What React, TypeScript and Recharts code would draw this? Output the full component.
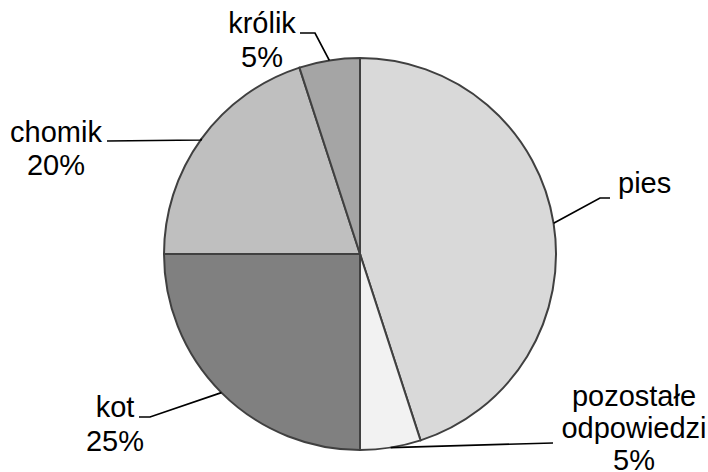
import React from 'react';
import { PieChart, Pie, Cell } from 'recharts';

const categories = ['pies', 'pozostałe odpowiedzi', 'kot', 'chomik', 'królik'];
const values = [45, 5, 25, 20, 5];
const showPercent = [false, true, true, true, true];
const colors = ['#d9d9d9', '#f2f2f2', '#808080', '#bfbfbf', '#a5a5a5'];

const data = categories.map((name, i) => ({ name, value: values[i] }));

// label placement: offsets relative to the pie centre
type Layout = {
  elbow: [number, number];
  end: [number, number];
  x: number;
  anchor: 'start' | 'middle' | 'end';
  baselines: number[];
};
const LABEL_LAYOUT: Layout[] = [
  { elbow: [240, -56], end: [250, -56], x: 258, anchor: 'start', baselines: [-61] },
  { elbow: [193, 189], end: [193, 189], x: 274, anchor: 'middle', baselines: [152, 184, 216] },
  { elbow: [-210, 163], end: [-221, 163], x: -245, anchor: 'middle', baselines: [163, 197] },
  { elbow: [-159, -114], end: [-253, -113], x: -304, anchor: 'middle', baselines: [-112, -79] },
  { elbow: [-45, -221], end: [-60, -221], x: -98, anchor: 'middle', baselines: [-221, -187] },
];

const RADIAN = Math.PI / 180;

const renderLabel = (props: any) => {
  const { cx, cy, midAngle, outerRadius, index, percent, name } = props;
  const L = LABEL_LAYOUT[index];
  const sx = cx + outerRadius * Math.cos(-midAngle * RADIAN);
  const sy = cy + outerRadius * Math.sin(-midAngle * RADIAN);
  const lines: string[] = String(name).split(' ');
  if (showPercent[index]) lines.push(`${Math.round(percent * 100)}%`);
  const pts = [
    [sx, sy],
    [cx + L.elbow[0], cy + L.elbow[1]],
    [cx + L.end[0], cy + L.end[1]],
  ]
    .map((p) => p.join(','))
    .join(' ');
  return (
    <g key={`lbl-${index}`}>
      <polyline points={pts} fill="none" stroke="#000" strokeWidth={1.7} />
      <text
        textAnchor={L.anchor}
        fill="#000"
        fontFamily="'Liberation Sans', Arial, sans-serif"
        fontSize={29}
      >
        {lines.map((t, i) => (
          <tspan key={i} x={cx + L.x} y={cy + L.baselines[i]}>
            {t}
          </tspan>
        ))}
      </text>
    </g>
  );
};

export default function App() {
  return (
    <div style={{ position: 'absolute', left: 0, top: 0, width: 708, height: 472, background: '#fff' }}>
      <PieChart width={708} height={472} margin={{ top: 0, right: 0, bottom: 0, left: 0 }}>
        <Pie
          data={data}
          dataKey="value"
          nameKey="name"
          cx={360}
          cy={254}
          outerRadius={196}
          startAngle={90}
          endAngle={-270}
          stroke="#404040"
          strokeWidth={2}
          isAnimationActive={false}
          label={renderLabel}
          labelLine={false}
        >
          {data.map((d, i) => (
            <Cell key={d.name} fill={colors[i]} />
          ))}
        </Pie>
      </PieChart>
    </div>
  );
}
